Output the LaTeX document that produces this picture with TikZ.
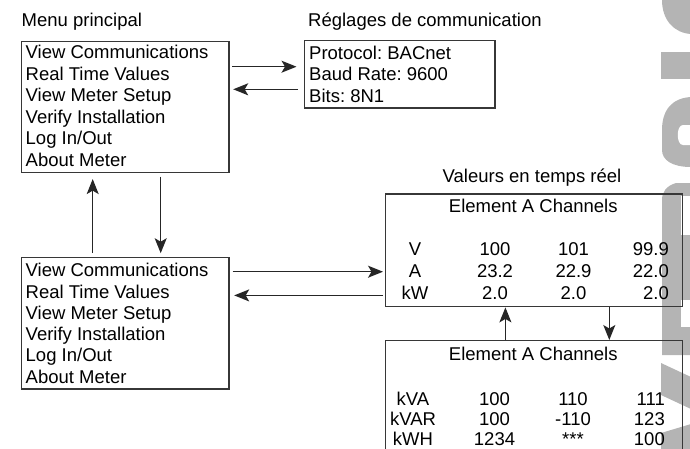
\documentclass[tikz,border=0pt]{standalone}
\usepackage{fontspec}
\setmainfont{Liberation Sans}
\usetikzlibrary{arrows.meta}
\definecolor{wm}{RGB}{180,180,180}
\definecolor{boxc}{RGB}{55,55,55}
\frenchspacing
\begin{document}
\begin{tikzpicture}[x=1pt,y=-1pt,
  box/.style={draw=boxc, line width=1.4pt, inner sep=0pt, anchor=north west},
  txt/.style={inner sep=0pt, anchor=base west, font=\fontsize{18.5}{22}\selectfont\frenchspacing},
  ctr/.style={txt, anchor=base},
  rgt/.style={txt, anchor=base east},
  arr/.style={line width=1.3pt, draw=black!85, -{Stealth[length=15pt,width=12pt,inset=3.5pt]}},
]
\useasboundingbox (0,0) rectangle (690,448);
\clip (0,0) rectangle (690,448);
% watermark fragment
\begin{scope}
\clip (661,0) rectangle (690,448);
\fill[wm] (662,-1) -- (691,-1) -- (691,34) .. controls (674,33) and (662,20) .. (662,0) -- cycle;
\fill[wm] (661,52) rectangle (691,79);
\fill[wm] (691,97) .. controls (672,98) and (662,110) .. (662,130) -- (662,150) .. controls (662,160) and (672,167) .. (691,167) -- cycle;
\fill[white] (691,125) -- (683,125) .. controls (676,125) and (676,145) .. (683,145) -- (691,145) -- cycle;
\fill[wm] (691,183) -- (676,183) .. controls (666,186) and (662,192) .. (662,200) -- (662,355) -- (691,355) -- cycle;
\fill[white] (681,196) rectangle (691,235);
\fill[white] (681,300) rectangle (691,327);
\fill[wm] (661,363) -- (691,377) -- (691,409) -- (661,395) -- cycle;
\fill[wm] (661,433) -- (691,424) -- (691,449) -- (661,449) -- cycle;
\end{scope}
% boxes
\node[box, minimum width=207.6pt, minimum height=131pt] (menu1) at (20.7,40.7) {};
\node[box, minimum width=190.3pt, minimum height=67.3pt] (comm) at (304,40) {};
\node[box, minimum width=207.6pt, minimum height=131.6pt] (menu2) at (20.7,256.7) {};
\node[box, minimum width=296.7pt, minimum height=112.7pt] (rt1) at (385,193.3) {};
\node[box, minimum width=296.7pt, minimum height=130pt] (rt2) at (385,340) {};
% labels
\node[txt] (lab1) at (21.5,26.7) {Menu principal};
\node[txt] (lab2) at (308,26.7) {Réglages de communication};
\node[ctr] (lab3) at (532,182.5) {Valeurs en temps réel};
% menu texts
\foreach \t [count=\i] in {View Communications, Real Time Values, View Meter Setup, Verify Installation, Log In/Out, About Meter}{
  \node[txt] (ma\i) at (25.5, 37+21.5*\i) {\t};
  \node[txt] (mb\i) at (25.5, 255.4+21.3*\i) {\t};
}
\foreach \t [count=\i] in {Protocol: BACnet, Baud Rate: 9600, Bits: 8N1}{
  \node[txt] (cm\i) at (309, 37.5+21.5*\i) {\t};
}
% tables
\node[ctr] (t1) at (533.3,212) {Element A Channels};
\node[ctr] (t2) at (533.3,360) {Element A Channels};
\foreach \a/\b/\c/\d [count=\i] in {V/100/101/99.9, A/23.2/22.9/22.0, kW/2.0/2.0/2.0}{
  \node[ctr] (ra\i) at (415, 233+22*\i) {\a};
  \node[ctr] (rb\i) at (495, 233+22*\i) {\b};
  \node[ctr] (rc\i) at (573.5, 233+22*\i) {\c};
  \node[rgt] (rd\i) at (669, 233+22*\i) {\d};
}
\foreach \a/\b/\c/\d [count=\i] in {kVA/100/110/111, kVAR/100/-110/123, kWH/1234/***/100}{
  \node[ctr] (sa\i) at (413, 385+20*\i) {\a};
  \node[ctr] (sb\i) at (494.5, 385+20*\i) {\b};
  \node[ctr] (sc\i) at (573, 385+20*\i) {\c};
  \node[rgt] (sd\i) at (665, 385+20*\i) {\d};
}
% connectors
\draw[arr, shorten <=2.5pt, shorten >=7.5pt] (menu1.east |- 0,66.7) -- (comm.west |- 0,66.7);
\draw[arr, shorten <=6pt, shorten >=3.5pt] (comm.west |- 0,89.3) -- (menu1.east |- 0,89.3);
\draw[arr, shorten <=3pt, shorten >=2pt] (menu2.east |- 0,271.7) -- (rt1.west |- 0,271.7);
\draw[arr, shorten <=2pt, shorten >=4.5pt] (rt1.west |- 0,295.4) -- (menu2.east |- 0,295.4);
\draw[arr, shorten <=3.5pt, shorten >=6pt] (menu2.north -| 92.7,0) -- (menu1.south -| 92.7,0);
\draw[arr, shorten <=3.5pt, shorten >=3.5pt] (menu1.south -| 160.7,0) -- (menu2.north -| 160.7,0);
\draw[arr] (rt2.north -| 505.4,0) -- (rt1.south -| 505.4,0);
\draw[arr] (rt1.south -| 609.3,0) -- (rt2.north -| 609.3,0);
\end{tikzpicture}
\end{document}
